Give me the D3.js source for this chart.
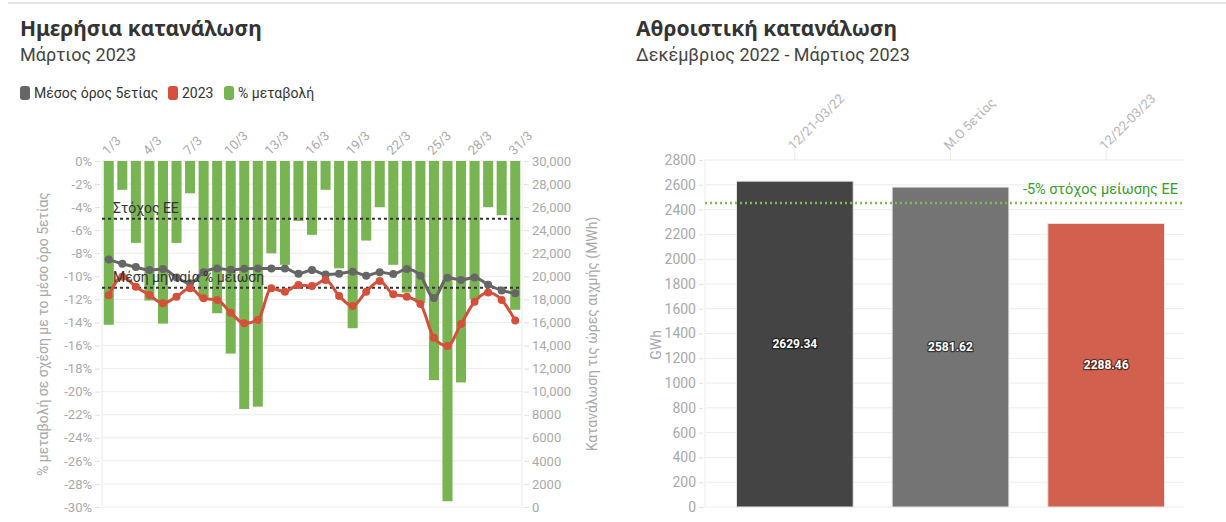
<!DOCTYPE html>
<html>
<head>
<meta charset="utf-8">
<script src="https://cdn.jsdelivr.net/npm/d3@7"></script>
<style>
  body { margin: 0; background: #fff; }
  svg { display: block; font-family: Roboto, "Noto Sans", sans-serif; }
</style>
</head>
<body>
<svg width="1226" height="522"></svg>
<script>
// ---- daily chart data (March 2023) ----
const days = d3.range(1, 32).map(d => d + "/3");
const pctChange = [-14.2, -2.5, -7.1, -12.1, -14.1, -7.1, -2.8, -12.0, -13.2, -16.7,
  -21.5, -21.3, -8.0, -9.0, -5.2, -6.4, -2.5, -9.3, -14.5, -6.9,
  -4.0, -9.0, -11.4, -12.3, -19.0, -29.5, -19.2, -12.0, -4.0, -4.7, -12.9];
const avg5y = [21450, 21090, 20800, 20550, 20640, 19900, 19390, 20350, 20690, 20560,
  20660, 20690, 20690, 20690, 20230, 20550, 20150, 20220, 20400, 20050,
  20360, 20200, 20630, 20050, 18120, 19880, 19690, 19900, 19270, 18780, 18530];
const val2023 = [18350, 19970, 19100, 18380, 17660, 18240, 18960, 18090, 17950, 16850,
  15930, 16210, 18960, 18670, 19250, 19160, 19680, 18300, 17430, 18670,
  19600, 18440, 18240, 17600, 14680, 13960, 15870, 17800, 18590, 17950, 16160];
const refLabels = ["Στόχος ΕΕ", "Μέση μηνιαία % μείωση"];
const refValues = [-5, -11];
const legendLabels = ["Μέσος όρος 5ετίας", "2023", "% μεταβολή"];

// ---- cumulative chart data ----
const periods = ["12/21-03/22", "Μ.Ο 5ετίας", "12/22-03/23"];
const totals = [2629.34, 2581.62, 2288.46];
const targetValue = 2452.5;

const green = "#78b451", red = "#d5503a", grey = "#666666";
const axisGrey = "#a9a9a9";

const svg = d3.select("svg");
svg.append("rect").attr("width", 1226).attr("height", 522).attr("fill", "#fff");

// top separator
svg.append("line").attr("x1", 8).attr("x2", 1226).attr("y1", 3).attr("y2", 3)
  .attr("stroke", "#e4e4e4").attr("stroke-width", 2);

// ================= LEFT CHART =================
svg.append("text").attr("x", 20).attr("y", 36).text("Ημερήσια κατανάλωση")
  .attr("font-size", 21).attr("font-weight", "bold").attr("fill", "#333")
  .attr("font-family", "'Noto Sans', sans-serif");
svg.append("text").attr("x", 20).attr("y", 61).text("Μάρτιος 2023")
  .attr("font-size", 18).attr("fill", "#444");

// legend
const legColors = [grey, red, green];
const legX = [20, 168, 224];
legendLabels.forEach((l, i) => {
  svg.append("rect").attr("x", legX[i]).attr("y", 86).attr("width", 10).attr("height", 14)
    .attr("rx", 3).attr("fill", legColors[i]);
  svg.append("text").attr("x", legX[i] + 14).attr("y", 98).text(l)
    .attr("font-size", 14).attr("fill", "#333");
});

const x = d3.scaleBand().domain(days).range([102, 522]).paddingInner(0.26).paddingOuter(0.13);
const yPct = d3.scaleLinear().domain([-30, 0]).range([507, 161]);
const yMWh = d3.scaleLinear().domain([0, 30000]).range([507, 161]);
const cx = d => x(d) + x.bandwidth() / 2;

// grid
const gl = svg.append("g");
gl.selectAll("line").data(yPct.ticks(15)).join("line")
  .attr("x1", 102).attr("x2", 522).attr("y1", d => yPct(d)).attr("y2", d => yPct(d))
  .attr("stroke", "#ececec");
gl.append("line").attr("x1", 102).attr("x2", 102).attr("y1", 161).attr("y2", 507).attr("stroke", "#ececec");
gl.append("line").attr("x1", 522).attr("x2", 522).attr("y1", 161).attr("y2", 507).attr("stroke", "#ececec");

// left axis
const axL = svg.append("g").attr("transform", "translate(100,0)")
  .call(d3.axisLeft(yPct).ticks(15).tickSize(5).tickFormat(d => d + "%"));
// right axis
const axR = svg.append("g").attr("transform", "translate(524,0)")
  .call(d3.axisRight(yMWh).ticks(15).tickSize(5)
    .tickFormat(d => d >= 10000 ? d3.format(",")(d) : d));
[axL, axR].forEach(a => {
  a.select(".domain").remove();
  a.selectAll(".tick line").attr("stroke", "#e0e0e0");
  a.selectAll(".tick text").attr("fill", axisGrey).attr("font-size", 13)
    .attr("font-family", "Roboto, sans-serif");
});

// top x labels
const axT = svg.append("g").attr("transform", "translate(0,155)")
  .call(d3.axisTop(x).tickValues(days.filter((d, i) => i % 3 === 0)).tickSize(0));
axT.select(".domain").remove();
axT.selectAll(".tick text")
  .attr("fill", axisGrey).attr("font-size", 13).attr("font-family", "Roboto, sans-serif")
  .attr("text-anchor", "start").attr("transform", "translate(-4,-2) rotate(-45)")
  .attr("dy", "0.3em").attr("y", 0);

// bars
svg.append("g").selectAll("rect").data(pctChange).join("rect")
  .attr("x", (d, i) => x(days[i])).attr("width", x.bandwidth())
  .attr("y", yPct(0)).attr("height", d => yPct(d) - yPct(0))
  .attr("fill", green);

// reference lines
refValues.forEach((v, i) => {
  svg.append("line").attr("x1", 102).attr("x2", 522).attr("y1", yPct(v)).attr("y2", yPct(v))
    .attr("stroke", "#333").attr("stroke-width", 2).attr("stroke-dasharray", "3,3");
});

// lines
const line = d3.line().x((d, i) => cx(days[i])).y(d => yMWh(d)).curve(d3.curveMonotoneX);
[[avg5y, grey], [val2023, red]].forEach(([data, col]) => {
  svg.append("path").datum(data).attr("d", line).attr("fill", "none")
    .attr("stroke", col).attr("stroke-width", 3);
  svg.append("g").selectAll("circle").data(data).join("circle")
    .attr("cx", (d, i) => cx(days[i])).attr("cy", d => yMWh(d)).attr("r", 4)
    .attr("fill", col);
});

// reference labels
refValues.forEach((v, i) => {
  svg.append("text").attr("x", 113).attr("y", yPct(v) - 6).text(refLabels[i])
    .attr("font-size", 14).attr("fill", "#333");
});

// axis titles
svg.append("text").attr("transform", "translate(48,334) rotate(-90)")
  .attr("text-anchor", "middle").text("% μεταβολή σε σχέση με το μέσο όρο 5ετίας")
  .attr("font-size", 14).attr("fill", axisGrey);
svg.append("text").attr("transform", "translate(597,334) rotate(-90)")
  .attr("text-anchor", "middle").text("Κατανάλωση τις ώρες αιχμής (MWh)")
  .attr("font-size", 14).attr("fill", axisGrey);

// ================= RIGHT CHART =================
svg.append("text").attr("x", 636).attr("y", 36).text("Αθροιστική κατανάλωση")
  .attr("font-size", 21).attr("font-weight", "bold").attr("fill", "#333")
  .attr("font-family", "'Noto Sans', sans-serif");
svg.append("text").attr("x", 636).attr("y", 61).text("Δεκέμβριος 2022 - Μάρτιος 2023")
  .attr("font-size", 18).attr("fill", "#444");

const xb = d3.scaleBand().domain(periods).range([717, 1184]).paddingInner(0.25).paddingOuter(0.125);
const yG = d3.scaleLinear().domain([0, 2800]).range([507, 160]);

const g2 = svg.append("g");
g2.selectAll("line.grid").data(yG.ticks(14)).join("line").attr("class", "grid")
  .attr("x1", 705).attr("x2", 1184).attr("y1", d => yG(d)).attr("y2", d => yG(d))
  .attr("stroke", "#ececec");
g2.append("line").attr("x1", 705).attr("x2", 705).attr("y1", 160).attr("y2", 507).attr("stroke", "#ececec");
g2.selectAll("line.vt").data(periods).join("line").attr("class", "vt")
  .attr("x1", d => xb(d) + xb.bandwidth() / 2).attr("x2", d => xb(d) + xb.bandwidth() / 2)
  .attr("y1", 150).attr("y2", 160).attr("stroke", "#ececec");

const axG = svg.append("g").attr("transform", "translate(703,0)")
  .call(d3.axisLeft(yG).ticks(14).tickSize(4).tickFormat(d3.format("d")));
axG.select(".domain").remove();
axG.selectAll(".tick line").attr("stroke", "#e0e0e0");
axG.selectAll(".tick text").attr("fill", axisGrey).attr("font-size", 14)
  .attr("font-family", "Roboto, sans-serif");

const axB = svg.append("g").attr("transform", "translate(0,150)")
  .call(d3.axisTop(xb).tickSize(0));
axB.select(".domain").remove();
axB.selectAll(".tick text")
  .attr("fill", "#b5b5b5").attr("font-size", 13).attr("font-family", "Roboto, sans-serif")
  .attr("text-anchor", "start").attr("transform", "translate(-4,-2) rotate(-45)")
  .attr("dy", "0.3em").attr("y", 0);

svg.append("text").attr("transform", "translate(661,345) rotate(-90)")
  .attr("text-anchor", "middle").text("GWh").attr("font-size", 14).attr("fill", axisGrey);

const barCols = ["#444444", "#747474", "#d2604f"];
svg.append("g").selectAll("rect").data(totals).join("rect")
  .attr("x", (d, i) => xb(periods[i])).attr("width", xb.bandwidth())
  .attr("y", d => yG(d)).attr("height", d => yG(0) - yG(d))
  .attr("fill", (d, i) => barCols[i]).attr("stroke", "#e8e8e8").attr("stroke-width", 1);

svg.append("g").selectAll("text").data(totals).join("text")
  .attr("x", (d, i) => xb(periods[i]) + xb.bandwidth() / 2)
  .attr("y", d => (yG(d) + yG(0)) / 2 + 4)
  .attr("text-anchor", "middle").text(d => d3.format(".2f")(d))
  .attr("font-size", 12).attr("font-weight", "bold").attr("fill", "#fff")
  .attr("stroke", "rgba(0,0,0,0.55)").attr("stroke-width", 2.5).attr("paint-order", "stroke");

svg.append("line").attr("x1", 705).attr("x2", 1184)
  .attr("y1", yG(targetValue)).attr("y2", yG(targetValue))
  .attr("stroke", "#7cc04a").attr("stroke-width", 2.5).attr("stroke-dasharray", "2,3");
svg.append("text").attr("x", 1178).attr("y", yG(targetValue) - 9).attr("text-anchor", "end")
  .text("-5% στόχος μείωσης ΕΕ").attr("font-size", 14.5).attr("fill", "#33a02c");
</script>
</body>
</html>
